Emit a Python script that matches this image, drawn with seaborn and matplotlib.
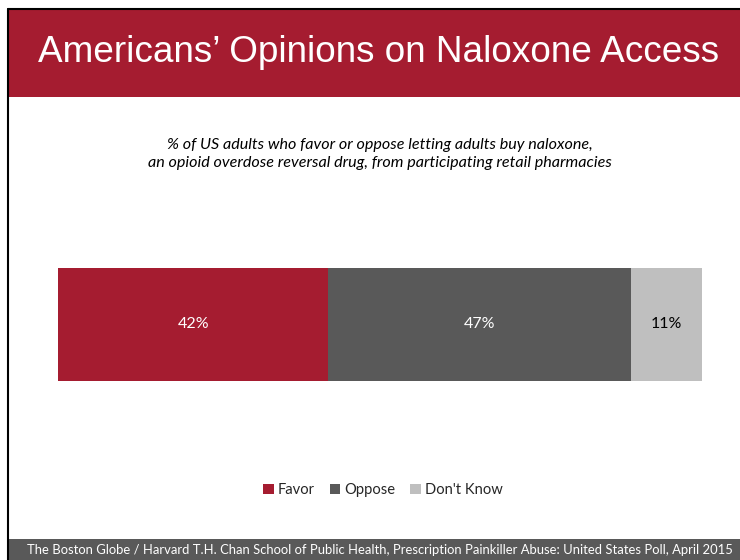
import matplotlib
matplotlib.use("Agg")
import matplotlib.pyplot as plt
from matplotlib.patches import Patch, Rectangle
from matplotlib.lines import Line2D
import seaborn as sns
import pandas as pd
import numpy as np

categories = ["Favor", "Oppose", "Don't Know"]
values = [42, 47, 11]
colors = ["#A51C30", "#595959", "#BFBFBF"]
label_colors = ["white", "white", "black"]

title = "Americans\u2019 Opinions on Naloxone Access"
subtitle = ("% of US adults who favor or oppose letting adults buy naloxone,\n"
            "an opioid overdose reversal drug, from participating retail pharmacies")
footer = ("The Boston Globe / Harvard T.H. Chan School of Public Health, Prescription "
          "Painkiller Abuse: United States Poll, April 2015")

sns.set_theme(style="white")
plt.rcParams["font.family"] = ["Lato", "DejaVu Sans"]

W, H = 740, 560
fig = plt.figure(figsize=(W / 100, H / 100), dpi=100)
fig.patch.set_facecolor("white")

def fx(x):
    return x / W

def fy(y):
    return 1 - y / H

# banner
fig.add_artist(Rectangle((fx(8), fy(97)), 1 - fx(8), (97 - 10) / H,
                         transform=fig.transFigure, facecolor="#A51C30", edgecolor="none"))
fig.text(fx(379), fy(53), title, color="white", fontsize=26.6,
         family=["Liberation Sans", "DejaVu Sans"], ha="center", va="center")
# border lines
fig.add_artist(Line2D([fx(8), fx(8)], [fy(9), fy(560)], transform=fig.transFigure,
                      color="black", lw=1.5))
fig.add_artist(Line2D([fx(8), 1], [fy(9), fy(9)], transform=fig.transFigure,
                      color="black", lw=1.5))

# footer
fig.add_artist(Rectangle((fx(8), 0), 1 - fx(8), (560 - 539) / H,
                         transform=fig.transFigure, facecolor="#595959", edgecolor="none"))
fig.text(fx(380), fy(550), footer, color="white", fontsize=9.4, ha="center", va="center")

# subtitle
fig.text(fx(380), fy(154), subtitle, color="black", fontsize=11.6, style="italic",
         ha="center", va="center", linespacing=1.3)

# bar axes
ax = fig.add_axes([fx(58), fy(381), (702 - 58) / W, (381 - 268) / H])
cum = np.cumsum(values)
df = pd.DataFrame({"cat": categories, "cum": cum, "row": ["all"] * 3})
for i in range(len(categories) - 1, -1, -1):
    sns.barplot(x=[df["cum"][i]], y=[df["row"][i]], orient="h", color=colors[i],
                width=1.0, ax=ax, saturation=1, edgecolor="none", linewidth=0)
starts = np.concatenate([[0], cum[:-1]])
for i, v in enumerate(values):
    ax.text(starts[i] + v / 2, 0, f"{v}%", color=label_colors[i], fontsize=11.5,
            ha="center", va="center")
ax.set_xlim(0, 100)
ax.set_ylim(0.5, -0.5)
ax.axis("off")

# legend
handles = [Patch(facecolor=c, edgecolor="none", label=l) for c, l in zip(colors, categories)]
fig.legend(handles=handles, loc="center", bbox_to_anchor=(fx(383), fy(490)), ncol=3,
           frameon=False, fontsize=10.6, handlelength=0.7, handleheight=0.7,
           handletextpad=0.3, columnspacing=1.0)

fig.savefig("out.png", dpi=100, facecolor="white")
